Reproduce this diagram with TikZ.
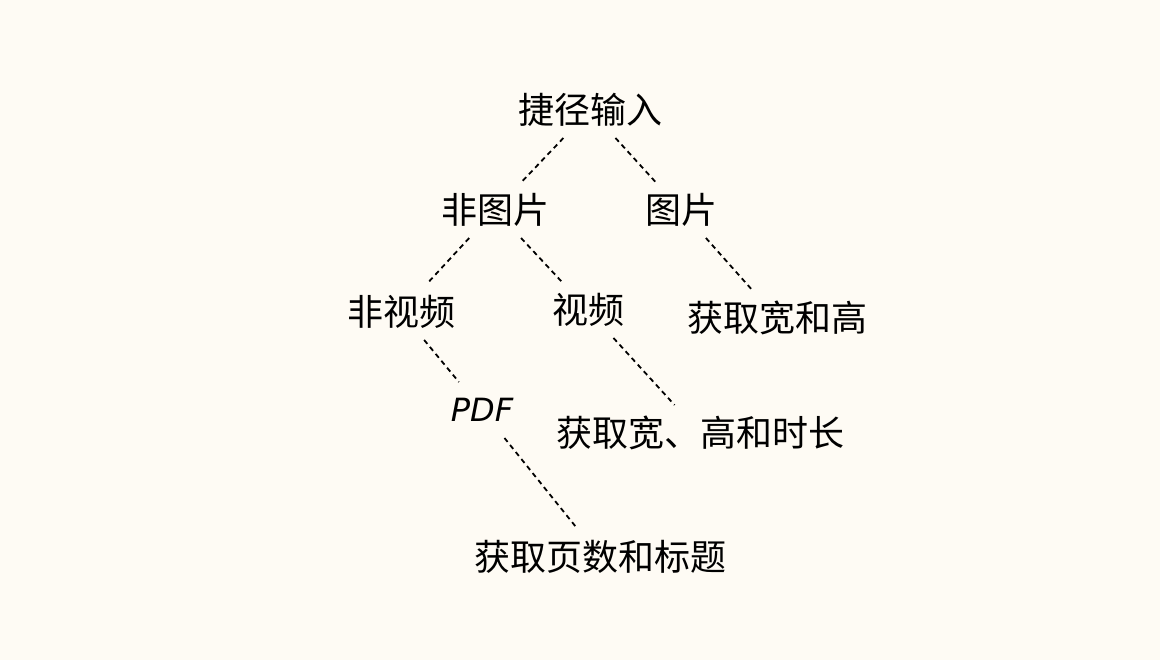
\documentclass[tikz,border=0pt]{standalone}
\usepackage{fontspec}
\newfontfamily\cjk{Noto Sans CJK SC}
\newfontfamily\latin{DejaVu Sans}
\definecolor{paper}{HTML}{FEFBF4}
\begin{document}
\begin{tikzpicture}[x=1pt,y=1pt,
        item/.style={inner sep=0pt, outer sep=0pt, minimum height=56pt,
                     font=\cjk\fontsize{36}{42}\selectfont},
        link/.style={dashed, line width=1.8pt, dash pattern=on 5pt off 4pt}]
            \fill[paper] (0,0) rectangle (1160,660);
            \useasboundingbox (0,0) rectangle (1160,660);
            \node[item] (in) at (590,550) {捷径输入};
            \node[item] (nimg) at (495,450) {非图片};
            \node[item] (img) at (681,450) {图片};
            \node[item] (nvid) at (401,348) {非视频};
            \node[item] (vid) at (588,350) {视频};
            \node[item] (wh) at (777,342) {获取宽和高};
            \node[item, font=\latin\itshape\fontsize{32}{38}\selectfont] (pdf) at (482,250) {PDF};
            \node[item] (whd) at (700,227) {获取宽、高和时长};
            \node[item] (pt) at (600,103) {获取页数和标题};
            \draw[link] (in) -- (nimg);
            \draw[link] (in) -- (img);
            \draw[link] (nimg) -- (nvid);
            \draw[link] (nimg) -- (vid);
            \draw[link] (img) -- (wh);
            \draw[link] (nvid) -- (pdf);
            \draw[link] (vid) -- (whd);
            \draw[link] (pdf) -- (pt);
        \end{tikzpicture}
\end{document}
